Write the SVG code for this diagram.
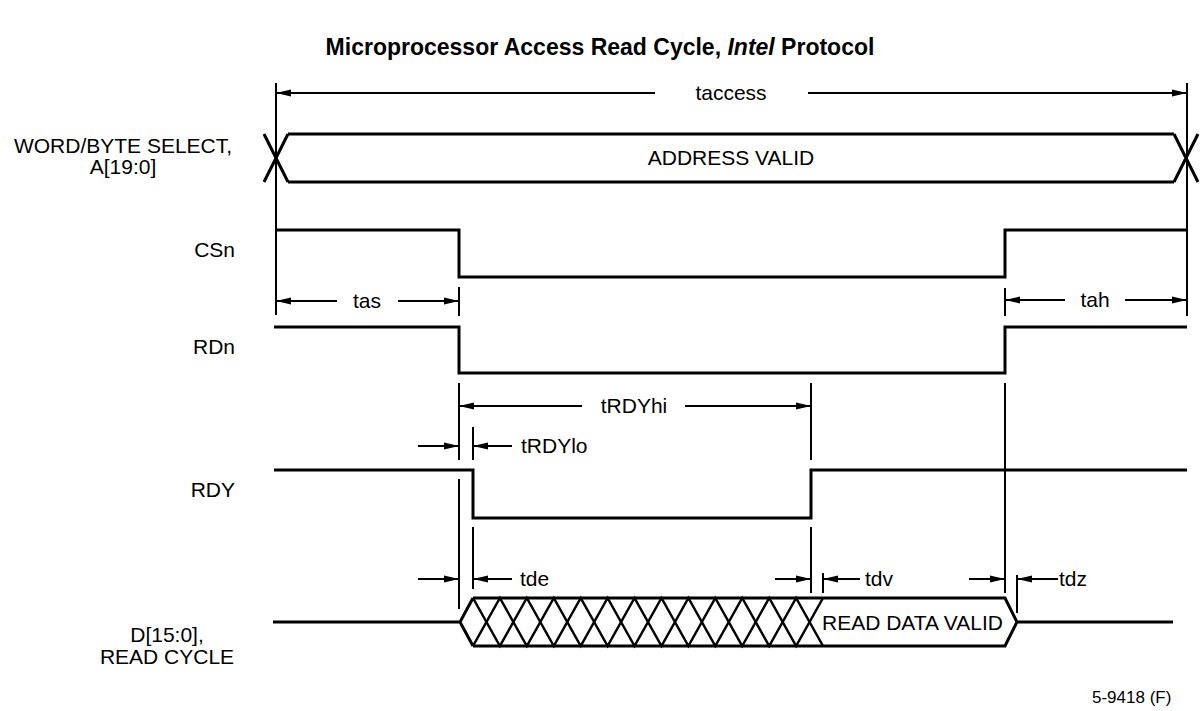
<svg xmlns="http://www.w3.org/2000/svg" width="1200" height="711" viewBox="0 0 1200 711">
<defs>
<marker id="arr" markerUnits="userSpaceOnUse" viewBox="0 -4 15 8" refX="15" refY="0" markerWidth="15" markerHeight="8" orient="auto">
<path d="M0,-3.5 L15,0 L0,3.5 z" fill="#000"/>
</marker>
<style>
text{font-family:"Liberation Sans",Arial,sans-serif;font-size:21px;fill:#000}
.title{font-size:23px;font-weight:bold}
.sig{fill:none;stroke:#000;stroke-width:3;stroke-linejoin:miter}
.hatch{fill:none;stroke:#000;stroke-width:2.5}
.ref{stroke:#000;stroke-width:2;fill:none}
.dim{stroke:#000;stroke-width:2;fill:none;marker-end:url(#arr)}
.foot{font-size:17px}
</style>
</defs>
<rect width="1200" height="711" fill="#fff"/>
<text class="title" x="600" y="55" text-anchor="middle">Microprocessor Access Read Cycle, <tspan font-style="italic">Intel</tspan> Protocol</text>

<g id="addr">
<text x="123" y="153" text-anchor="middle">WORD/BYTE SELECT,</text>
<text x="123" y="174" text-anchor="middle">A[19:0]</text>
<path class="sig" d="M288,134 L1174,134 M288,182 L1174,182 M264,134 L288,182 M264,182 L288,134 M1174,134 L1198,182 M1174,182 L1198,134"/>
<text x="731" y="165" text-anchor="middle">ADDRESS VALID</text>
</g>

<g id="csn">
<text x="235" y="257" text-anchor="end">CSn</text>
<polyline class="sig" points="276,230 459,230 459,277 1005,277 1005,230 1187,230"/>
</g>

<g id="rdn">
<text x="235" y="354" text-anchor="end">RDn</text>
<polyline class="sig" points="274,327 459,327 459,373 1005,373 1005,327 1187,327"/>
</g>

<g id="rdy">
<text x="235" y="497" text-anchor="end">RDY</text>
<polyline class="sig" points="274,470 473,470 473,518 811,518 811,470 1187,470"/>
</g>

<g id="data">
<text x="167" y="642" text-anchor="middle">D[15:0],</text>
<text x="167" y="664" text-anchor="middle">READ CYCLE</text>
<path class="sig" d="M273,622 L460,622 M473,598 L460,622 L473,646 M473,598 L1005,598 L1017,622 L1005,646 L473,646 M1017,622 L1173,622"/>
<polyline class="hatch" points="473,598 499.9,646 526.8,598 553.8,646 580.7,598 607.6,646 634.5,598 661.5,646 688.4,598 715.3,646 742.2,598 769.2,646 796.1,598 823,646"/>
<polyline class="hatch" points="473,646 499.9,598 526.8,646 553.8,598 580.7,646 607.6,598 634.5,646 661.5,598 688.4,646 715.3,598 742.2,646 769.2,598 796.1,646 823,598"/>
<text x="822" y="630">READ DATA VALID</text>
</g>

<g id="connectors">
<path class="ref" d="M276,83 L276,315 M1187,83 L1187,316 M459,287 L459,316 M459,383 L459,460 M459,479 L459,609 M1005,288 L1005,316 M1005,383 L1005,593 M473,427 L473,460 M473,527 L473,589 M811,383 L811,460 M811,527 L811,593 M823,573 L823,593 M1017,575 L1017,613"/>
<line class="dim" x1="655" y1="93" x2="276" y2="93"/>
<line class="dim" x1="808" y1="93" x2="1187" y2="93"/>
<text x="731" y="100" text-anchor="middle">taccess</text>
<line class="dim" x1="337" y1="301" x2="276" y2="301"/>
<line class="dim" x1="398" y1="301" x2="459" y2="301"/>
<text x="367" y="308" text-anchor="middle">tas</text>
<line class="dim" x1="1065" y1="300" x2="1005" y2="300"/>
<line class="dim" x1="1125" y1="300" x2="1187" y2="300"/>
<text x="1095" y="307" text-anchor="middle">tah</text>
<line class="dim" x1="582" y1="406" x2="459" y2="406"/>
<line class="dim" x1="685" y1="406" x2="811" y2="406"/>
<text x="634" y="413" text-anchor="middle">tRDYhi</text>
<line class="dim" x1="418" y1="446" x2="459" y2="446"/>
<line class="dim" x1="512" y1="446" x2="473" y2="446"/>
<text x="521" y="453">tRDYlo</text>
<line class="dim" x1="418" y1="579" x2="459" y2="579"/>
<line class="dim" x1="512" y1="579" x2="473" y2="579"/>
<text x="520" y="586">tde</text>
<line class="dim" x1="775" y1="579" x2="811" y2="579"/>
<line class="dim" x1="860" y1="579" x2="823" y2="579"/>
<text x="865" y="586">tdv</text>
<line class="dim" x1="969" y1="579" x2="1005" y2="579"/>
<line class="dim" x1="1058" y1="579" x2="1017" y2="579"/>
<text x="1059" y="586">tdz</text>
</g>

<text class="foot" x="1092" y="703">5-9418 (F)</text>
</svg>
